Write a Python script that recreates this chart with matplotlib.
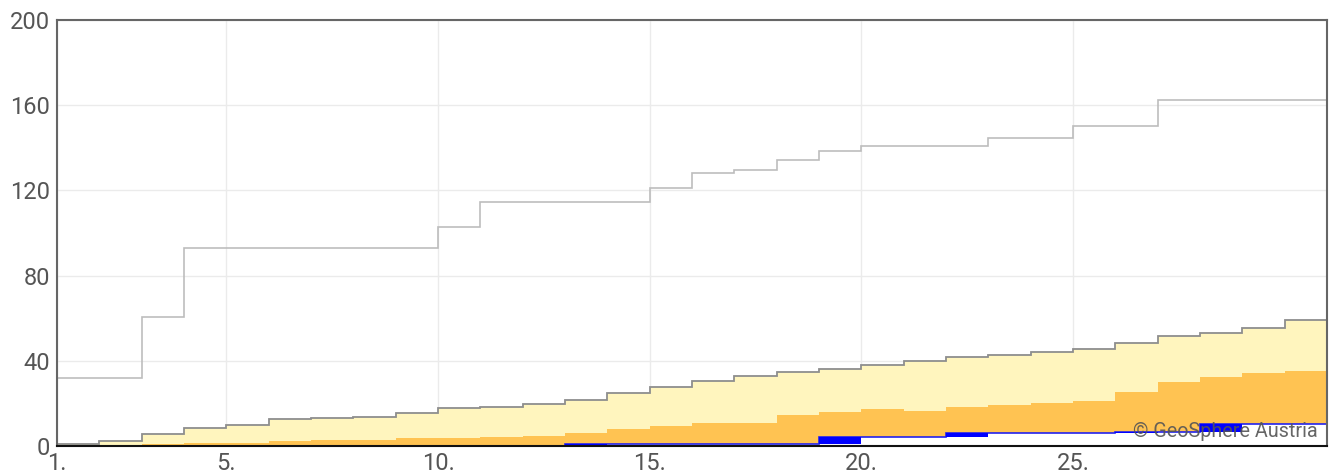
import numpy as np
import matplotlib
matplotlib.use("Agg")
import matplotlib.pyplot as plt

plt.rcParams['font.family'] = ['Roboto', 'DejaVu Sans']

# days of the month (30 days), each value holds for [d, d+1)
days = np.arange(1, 31)
edges = np.arange(1, 32)

# cumulative precipitation, maximum of the reference period
max_cum = [32, 32, 60.5, 92.8, 92.8, 92.8, 92.8, 92.8, 92.8, 102.7,
           114.5, 114.5, 114.5, 114.5, 121, 128.4, 129.4, 134.2, 138.3, 140.8,
           140.8, 140.8, 144.8, 144.8, 150.2, 150.2, 162.5, 162.5, 162.5, 162.5]
# upper band (light yellow)
upper_cum = [1.1, 2.2, 5.4, 8.5, 9.8, 12.6, 13.1, 13.4, 15.6, 17.7,
             18.1, 19.7, 21.7, 24.7, 27.6, 30.7, 32.8, 34.8, 36.2, 38.2,
             39.7, 42.0, 42.8, 44.1, 45.5, 48.5, 51.5, 53.2, 55.6, 59.1]
# median (orange)
median_cum = [0.3, 0.4, 0.8, 1.6, 1.6, 2.5, 3.0, 3.0, 3.9, 3.9,
              4.4, 4.9, 6.0, 8.0, 9.3, 10.9, 10.9, 14.5, 15.9, 17.5,
              16.5, 18.4, 19.4, 20.3, 20.9, 25.5, 29.9, 32.3, 34.5, 35.0]
# daily precipitation of the current month
daily = [0, 0, 0, 0, 0, 0, 0, 0, 0, 0,
         0, 0, 0.8, 0, 0, 0, 0, 0, 3.2, 0,
         0, 2.3, 0, 0, 0, 0.5, 0, 3.4, 0, 0]

xticks = [1, 5, 10, 15, 20, 25]
xticklabels = ['1.', '5.', '10.', '15.', '20.', '25.']
yticks = [0, 40, 80, 120, 160, 200]

cum = np.cumsum(daily)
prev = cum - np.array(daily)

fig = plt.figure(figsize=(13.35, 4.73), dpi=100)
ax = fig.add_axes([57 / 1335, 1 - 446 / 473, 1270 / 1335, 426 / 473])

ax.stairs(upper_cum, edges, baseline=0, fill=True, color='#fff5be', zorder=2)
ax.stairs(upper_cum, edges, baseline=None, color='#8e8e8e', lw=1.3, zorder=3)
ax.stairs(median_cum, edges, baseline=0, fill=True, color='#ffc352', zorder=3)
ax.stairs(cum, edges, baseline=0, fill=True, color='white', zorder=4)
ax.stairs(cum, edges, baseline=None, color='#2222ee', lw=1.2, zorder=5)
ax.stairs(cum, edges, baseline=prev, fill=True, color='#0000ff', zorder=6)
ax.stairs(max_cum, edges, baseline=None, color='#bdbdbd', lw=1.2, zorder=3)

ax.set_xlim(1, 31)
ax.set_ylim(0, 200)
ax.set_xticks(xticks)
ax.set_xticklabels(xticklabels)
ax.set_yticks(yticks)
ax.tick_params(length=0, labelsize=17, colors='#555555')
ax.tick_params(axis='x', pad=4)
ax.tick_params(axis='y', pad=5)
ax.grid(True, color='#ebebeb', lw=1, zorder=0)
ax.set_axisbelow(True)

for side in ['top', 'right', 'left']:
    ax.spines[side].set_color('#666666')
    ax.spines[side].set_linewidth(1.5)
ax.spines['bottom'].set_color('#111111')
ax.spines['bottom'].set_linewidth(1.5)
for sp in ax.spines.values():
    sp.set_zorder(10)

ax.text(0.993, 0.012, '\u00a9 GeoSphere Austria', transform=ax.transAxes,
        ha='right', va='bottom', fontsize=14.2, color='#555555', alpha=0.9,
        zorder=11)

fig.savefig('out.png', dpi=100)
